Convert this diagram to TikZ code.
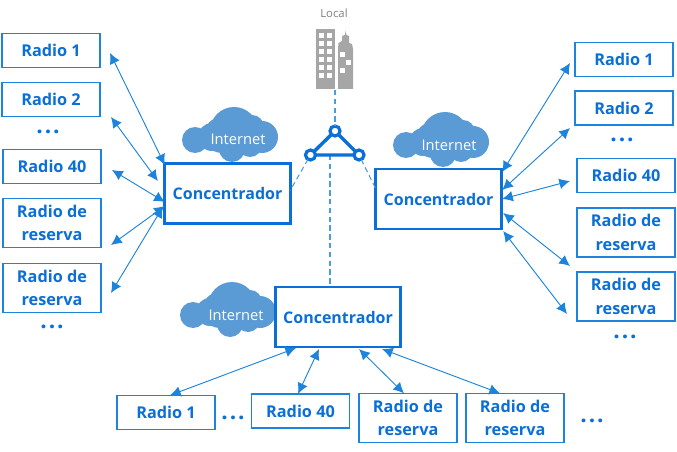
\documentclass[tikz,border=0pt]{standalone}
\usepackage{fontspec}
\setmainfont{Open Sans}
\usetikzlibrary{arrows.meta,calc}

\definecolor{hubblue}{HTML}{0A6FD6}
\definecolor{linkblue}{HTML}{1C84DC}
\definecolor{dashblue}{HTML}{4A9EDE}
\definecolor{cloudblue}{HTML}{5B9BD5}
\definecolor{towergray}{HTML}{A6A6A6}

\tikzset{
    radiobox/.style={draw=linkblue, fill=white, line width=1.1pt, text=hubblue, font=\fontsize{12.2}{17.5}\selectfont\bfseries,
        align=center, inner sep=0pt, outer sep=0pt, minimum width=73.5pt, minimum height=25.8pt},
    sparebox/.style={radiobox, minimum height=37pt},
    hubbox/.style={draw=hubblue, fill=white, line width=2.2pt, text=hubblue, font=\fontsize{12}{14}\selectfont\bfseries,
        inner sep=0pt, outer sep=0pt, minimum width=94pt, minimum height=45pt},
    link/.style={{Latex[length=8pt,width=8pt]}-{Latex[length=8pt,width=8pt]}, draw=linkblue, line width=0.7pt},
    tie/.style={draw=dashblue, line width=0.8pt, dash pattern=on 4pt off 2.6pt},
    joint/.style={circle, draw=hubblue, fill=white, line width=2.4pt, inner sep=0pt, outer sep=0pt, minimum size=7.5pt},
    moredots/.style={anchor=base, text=hubblue, font=\fontsize{17}{17}\selectfont\bfseries},
    nettext/.style={text=white, font=\fontsize{11}{13}\selectfont},
    pics/netcloud/.style={code={
        \fill[cloudblue] (13,33) circle[radius=13] (30,30) circle[radius=14] (40,28) circle[radius=18]
            (52,24) circle[radius=24] (70,20) circle[radius=12] (80,30) circle[radius=16]
            (50,42) circle[radius=13] (68,38) circle[radius=12];
    }},
}

\begin{document}
\begin{tikzpicture}[x=0.75pt,y=-0.75pt]
    \useasboundingbox (0,0) rectangle (677,452);

    % clouds
    \pic at (182,107) {netcloud};
    \pic at (393,112) {netcloud};
    \pic at (180,282) {netcloud};
    \node[nettext] (netl) at (238,139) {Internet};
    \node[nettext] (netr) at (449,145) {Internet};
    \node[nettext] (netb) at (236,315) {Internet};

    % hubs
    \node[hubbox] (hubl) at (227.5,193.5) {Concentrador};
    \node[hubbox] (hubr) at (438.5,199) {Concentrador};
    \node[hubbox] (hubb) at (338,317) {Concentrador};

    % left radios
    \node[radiobox] (lra) at (51,50.5) {Radio 1};
    \node[radiobox] (lrb) at (51,99.5) {Radio 2};
    \node[radiobox] (lrc) at (52,166.5) {Radio 40};
    \node[sparebox] (lsa) at (52,223) {Radio de\\reserva};
    \node[sparebox] (lsb) at (52,288) {Radio de\\reserva};
    \node[moredots] (ldota) at (48,134) {.\kern1.5pt.\kern1.5pt.};
    \node[moredots] (ldotb) at (52,328) {.\kern1.5pt.\kern1.5pt.};

    % right radios
    \node[radiobox] (rra) at (624,59.5) {Radio 1};
    \node[radiobox] (rrb) at (624,108) {Radio 2};
    \node[radiobox] (rrc) at (626,175.5) {Radio 40};
    \node[sparebox] (rsa) at (626,232.5) {Radio de\\reserva};
    \node[sparebox] (rsb) at (626,296.5) {Radio de\\reserva};
    \node[moredots] (rdota) at (622,142) {.\kern1.5pt.\kern1.5pt.};
    \node[moredots] (rdotb) at (625,338) {.\kern1.5pt.\kern1.5pt.};

    % bottom radios
    \node[radiobox] (bra) at (166,412.5) {Radio 1};
    \node[radiobox] (brb) at (300.5,411) {Radio 40};
    \node[sparebox] (bsa) at (408,418) {Radio de\\reserva};
    \node[sparebox] (bsb) at (515,418) {Radio de\\reserva};
    \node[moredots] (bdota) at (233,419) {.\kern1.5pt.\kern1.5pt.};
    \node[moredots] (bdotb) at (592,422) {.\kern1.5pt.\kern1.5pt.};

    % radio links
    \draw[link] ($(lra.east)+(10,2.5)$) -- ($(hubl.west)+(0,-28.5)$);
    \draw[link] ($(lrb.east)+(11,17.5)$) -- ($(hubl.west)+(-7,-12.5)$);
    \draw[link] ($(lrc.east)+(11,3.5)$) -- ($(hubl.west)+(0,8.5)$);
    \draw[link] ($(lsa.east)+(10,22)$) -- ($(hubl.west)+(0,12.5)$);
    \draw[link] ($(lsb.east)+(10,5)$) -- ($(hubl.west)+(-2,13.5)$);

    \draw[link] ($(rra.west)+(-5,3.5)$) -- ($(hubr.east)+(1,-27)$);
    \draw[link] ($(rrb.west)+(-5,20)$) -- ($(hubr.east)+(1,-9)$);
    \draw[link] ($(rrc.west)+(-7,5.5)$) -- ($(hubr.east)+(1,0)$);
    \draw[link] ($(rsa.west)+(-7,33.5)$) -- ($(hubr.east)+(2,14)$);
    \draw[link] ($(rsb.west)+(-10,17.5)$) -- ($(hubr.east)+(2,32)$);

    \draw[link] ($(bra.north)+(4,0)$) -- ($(hubb.south)+(-42,1)$);
    \draw[link] ($(brb.north)+(-2.5,0)$) -- ($(hubb.south)+(-19,2)$);
    \draw[link] ($(bsa.north)+(-4,0)$) -- ($(hubb.south)+(21,2)$);
    \draw[link] ($(bsb.north)+(-15,0)$) -- ($(hubb.south)+(44,2)$);

    % local site
    \node[text=gray, font=\fontsize{8.5}{10}\selectfont] (site) at (334,13) {Local};
    \fill[towergray] (316,29) rectangle (335,89);
    \fill[towergray] (338,89) -- (338,49) -- (338.5,43) -- (342,41) -- (342,36) -- (345,35) -- (345.5,31)
        -- (346.5,35) -- (349,36) -- (349,43) -- (352,44) -- (353,49) -- (353,89) -- cycle;
    \foreach \row in {33,41,49,57,65,73}{
        \fill[white] (319,\row) rectangle (324,\row+5);
        \fill[white] (327,\row) rectangle (332,\row+5);
    }
    \fill[white] (340,52) rectangle (345,57);
    \fill[white] (346,60) rectangle (351,65);
    \fill[white] (340,68) rectangle (345,73);
    \coordinate (sitefoot) at (335,90);

    % triangle
    \coordinate (tribase) at (330,155);
    \node[joint] (tritop) at (335,131) {};
    \node[joint] (trileft) at (310.5,155) {};
    \node[joint] (triright) at (359,155) {};
    \draw[tie] (sitefoot) -- (tritop);
    \draw[tie] (trileft) -- ($(hubl.east)+(0,-3)$);
    \draw[tie] (triright) -- ($(hubr.west)+(0,-10)$);
    \draw[tie] (tribase) -- ($(hubb.north)+(-8,0)$);
    \draw[hubblue, line width=2.6pt] (tritop) -- (trileft) -- (triright) -- (tritop);
\end{tikzpicture}
\end{document}
